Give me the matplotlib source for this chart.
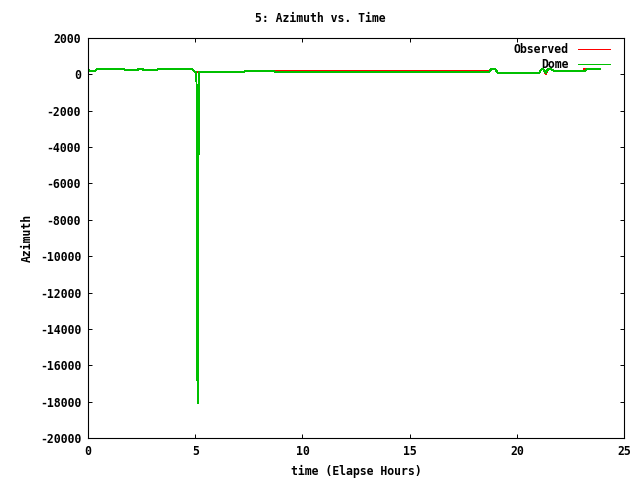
import numpy as np
import matplotlib.pyplot as plt

# Observed azimuth (red) - breakpoints
obs_time = [0.0, 0.1, 0.3, 0.4, 1.7, 1.75, 2.3, 2.35, 2.55, 2.6, 3.2, 3.25,
            4.6, 4.65, 4.85, 4.95, 5.0, 7.25, 7.3, 8.35, 8.4, 8.45, 9.2,
            18.7, 18.8, 19.0, 19.1, 21.05, 21.15, 21.25, 21.35, 21.45, 21.6,
            21.75, 23.1, 23.15, 23.9]
obs_az = [280, 180, 170, 280, 280, 225, 225, 280, 280, 225, 225, 280,
          280, 310, 310, 180, 130, 130, 170, 170, 200, 170, 170,
          170, 280, 280, 90, 90, 280, 280, 20, 280, 280,
          200, 200, 280, 280]

# Dome azimuth (green)
dome_time = [0.0, 0.1, 0.3, 0.4, 1.7, 1.75, 2.3, 2.35, 2.55, 2.6, 3.2, 3.25,
             4.6, 4.65, 4.85, 4.95, 5.0, 5.06, 5.07, 5.1, 5.11, 5.12, 5.13,
             5.14, 5.185, 5.19, 7.25, 7.3, 8.35, 8.4, 8.45, 9.2,
             18.7, 18.8, 19.0, 19.1, 21.05, 21.15, 21.25, 21.35, 21.45, 21.6,
             21.75, 23.2, 23.25, 23.9]
dome_az = [280, 180, 170, 280, 280, 225, 225, 280, 280, 225, 225, 280,
           280, 310, 310, 180, 115, 115, -9000, -13500, -18100, -13500, -13500,
           -4400, -4400, 115, 115, 170, 170, 200, 170, 130,
           130, 280, 280, 90, 90, 280, 280, 60, 280, 280,
           200, 200, 280, 280]

x_ticks = [0, 5, 10, 15, 20, 25]
y_ticks = list(range(-20000, 2001, 2000))


def azimuth_plot():
    font = {'family': 'DejaVu Sans Mono', 'weight': 'bold', 'size': 8.3}

    fig = plt.figure(figsize=(6.4, 4.8), dpi=100)
    ax = fig.add_axes([88 / 640, 1 - 438 / 480, 536 / 640, 400 / 480])

    # gnuplot-like crisp 1px lines, green drawn over red
    ax.plot(obs_time, obs_az, color='#ff0000', linewidth=0.72,
            antialiased=False, label='Observed')
    ax.plot(dome_time, dome_az, color='#00c000', linewidth=0.72,
            antialiased=False, label='Dome')

    ax.set_xlim(0, 25)
    ax.set_ylim(-20000, 2000)
    ax.set_xticks(x_ticks)
    ax.set_yticks(y_ticks)
    ax.set_xticklabels([str(t) for t in x_ticks], fontdict=font)
    ax.set_yticklabels([str(t) for t in y_ticks], fontdict=font)
    ax.tick_params(direction='in', top=True, right=True, length=3.2,
                   width=0.7, pad=5)
    for s in ax.spines.values():
        s.set_linewidth(0.8)

    ax.set_xlabel('time (Elapse Hours)', fontdict=font, labelpad=5)
    ax.set_ylabel('Azimuth', fontdict=font, labelpad=4)
    fig.text(0.5, 1 - 19 / 480, '5: Azimuth vs. Time', ha='center',
             va='center', fontdict=font)

    # key in the top right corner; with markerfirst=False rows are right-aligned
    ax.legend(loc='upper right', frameon=False, markerfirst=False,
              prop=font, handlelength=2.8, handletextpad=0.8,
              labelspacing=0.2, borderpad=0, borderaxespad=0,
              bbox_to_anchor=(1 - 14 / 536, 1 - 5 / 400))

    fig.savefig('out.png', dpi=100)


if __name__ == "__main__":
    azimuth_plot()
